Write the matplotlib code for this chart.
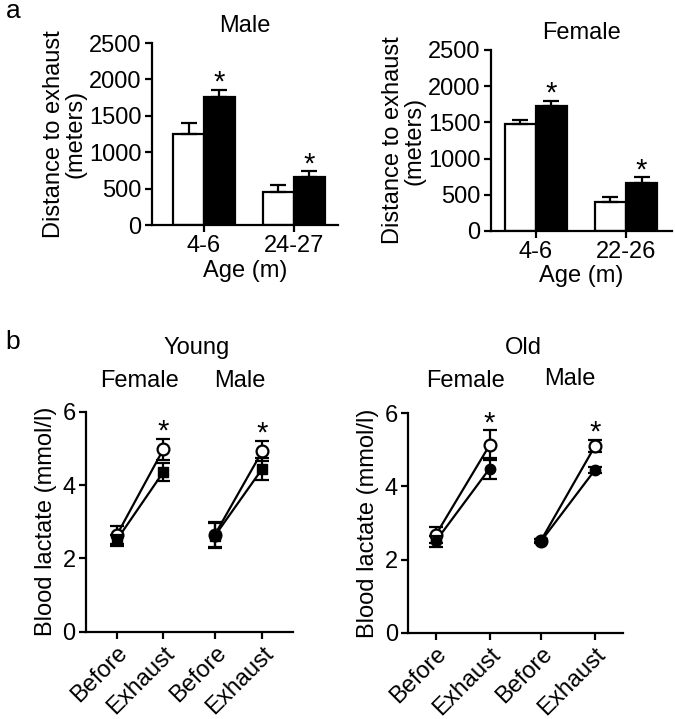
import matplotlib
matplotlib.use("Agg")
import matplotlib.pyplot as plt
import numpy as np

plt.rcParams['font.family'] = ['Liberation Sans', 'DejaVu Sans']

# ---------------- Data: panel a (distance to exhaust) ----------------
male_ages = ["4-6", "24-27"]
male_white = [1250, 455]
male_white_err = [150, 90]
male_black = [1760, 660]
male_black_err = [95, 75]

female_ages = ["4-6", "22-26"]
female_white = [1475, 405]
female_white_err = [60, 70]
female_black = [1727, 667]
female_black_err = [73, 73]

dist_yticks = [0, 500, 1000, 1500, 2000, 2500]

# ---------------- Data: panel b (blood lactate) ----------------
lact_xlabels = ["Before", "Exhaust", "Before", "Exhaust"]
lact_sexes = ["Female", "Male"]
lact_yticks = [0, 2, 4, 6]

# order: Female Before, Female Exhaust, Male Before, Male Exhaust
young_open = [2.63, 4.97, 2.65, 4.93]
young_open_err = [0.25, 0.28, 0.35, 0.27]
young_filled = [2.50, 4.35, 2.62, 4.45]
young_filled_err = [0.15, 0.25, 0.35, 0.30]

old_open = [2.67, 5.13, 2.52, 5.10]
old_open_err = [0.22, 0.40, 0.05, 0.16]
old_filled = [2.50, 4.49, 2.50, 4.45]
old_filled_err = [0.15, 0.30, 0.05, 0.08]

W, H = 675, 719
fig = plt.figure(figsize=(W / 100, H / 100), dpi=100)


def fax(left, right, top, bottom):
    return fig.add_axes([left / W, 1 - bottom / H, (right - left) / W, (bottom - top) / H])


FS = 17
LW = 1.6


def style(ax):
    for s in ("top", "right"):
        ax.spines[s].set_visible(False)
    for s in ("left", "bottom"):
        ax.spines[s].set_linewidth(LW)
    ax.tick_params(width=LW, length=5, labelsize=FS, direction="out", pad=2.5)


def star(ax, x, y):
    ax.annotate("*", (x, y), xytext=(0, -0.5), textcoords="offset points",
                ha="center", va="baseline", fontsize=21)


def bar_panel(ax, ages, white, werr, black, berr, title, xlim):
    x = np.arange(len(ages))
    bw = 0.344
    ax.bar(x - bw / 2, white, bw, color="white", edgecolor="black", linewidth=LW)
    ax.bar(x + bw / 2, black, bw, color="black", edgecolor="black", linewidth=LW)
    ax.errorbar(x - bw / 2, white, yerr=[np.zeros(len(x)), werr], fmt="none",
                ecolor="black", elinewidth=LW, capsize=5.5, capthick=LW)
    ax.errorbar(x + bw / 2, black, yerr=[np.zeros(len(x)), berr], fmt="none",
                ecolor="black", elinewidth=LW, capsize=5.5, capthick=LW)
    for xi, v, e in zip(x, black, berr):
        star(ax, xi + bw / 2, v + e)
    ax.set_xticks(x)
    ax.set_xticklabels(ages)
    ax.set_xlim(*xlim)
    ax.set_ylim(0, 2500)
    ax.set_yticks(dist_yticks)
    ax.set_title(title, fontsize=FS, pad=8)
    ax.set_xlabel("Age (m)", fontsize=FS, labelpad=1.5)
    ax.set_ylabel("Distance to exhaust\n(meters)", fontsize=FS, labelpad=2, linespacing=0.95)
    style(ax)


ax1 = fax(152, 337.7, 43, 225)
bar_panel(ax1, male_ages, male_white, male_white_err, male_black, male_black_err,
          "Male", (-0.578, 1.486))
ax2 = fax(490.7, 671.7, 50, 231)
bar_panel(ax2, female_ages, female_white, female_white_err, female_black, female_black_err,
          "Female", (-0.498, 1.506))


def lact_panel(ax, pos, xlim, op, operr, fi, fierr, filled_marker):
    pos = np.asarray(pos)
    for seg in (slice(0, 2), slice(2, 4)):
        ax.plot(pos[seg], np.asarray(op)[seg], color="black", lw=LW, zorder=2)
        ax.plot(pos[seg], np.asarray(fi)[seg], color="black", lw=LW, zorder=2)
    ax.errorbar(pos, op, yerr=operr, fmt="o", mfc="white", mec="black", mew=LW,
                color="black", ms=8.5, elinewidth=LW, capsize=5, capthick=LW, zorder=3)
    ax.errorbar(pos, fi, yerr=fierr, fmt=filled_marker, color="black", ms=7.5,
                elinewidth=LW, capsize=5, capthick=LW, zorder=4)
    for i in (1, 3):
        star(ax, pos[i], op[i] + operr[i])
    ax.set_xticks(pos)
    ax.set_xticklabels(lact_xlabels, rotation=45, ha="right", rotation_mode="anchor")
    ax.set_xlim(*xlim)
    ax.set_ylim(0, 6)
    ax.set_yticks(lact_yticks)
    ax.set_ylabel("Blood lactate (mmol/l)", fontsize=FS, labelpad=4)
    style(ax)


ax3 = fax(86, 293, 411.7, 631.7)
lact_panel(ax3, [0, 0.99, 2.09, 3.1], (-0.653, 3.75), young_open, young_open_err,
           young_filled, young_filled_err, "s")
ax4 = fax(408.3, 623, 413.3, 632.7)
lact_panel(ax4, [0, 1, 1.95, 2.95], (-0.507, 3.47), old_open, old_open_err,
           old_filled, old_filled_err, "o")


# group headings
def ftext(px, py, s, size=FS):
    fig.text(px / W, 1 - py / H, s, ha="center", va="center", fontsize=size)


ftext(197, 348, "Young")
ftext(140, 381, lact_sexes[0])
ftext(240, 381, lact_sexes[1])
ftext(523, 348, "Old")
ftext(465, 381, lact_sexes[0])
ftext(570, 379, lact_sexes[1])

ftext(13, 11, "a", 19)
ftext(13, 342, "b", 19)

fig.savefig("out.png", dpi=100, facecolor="white")
